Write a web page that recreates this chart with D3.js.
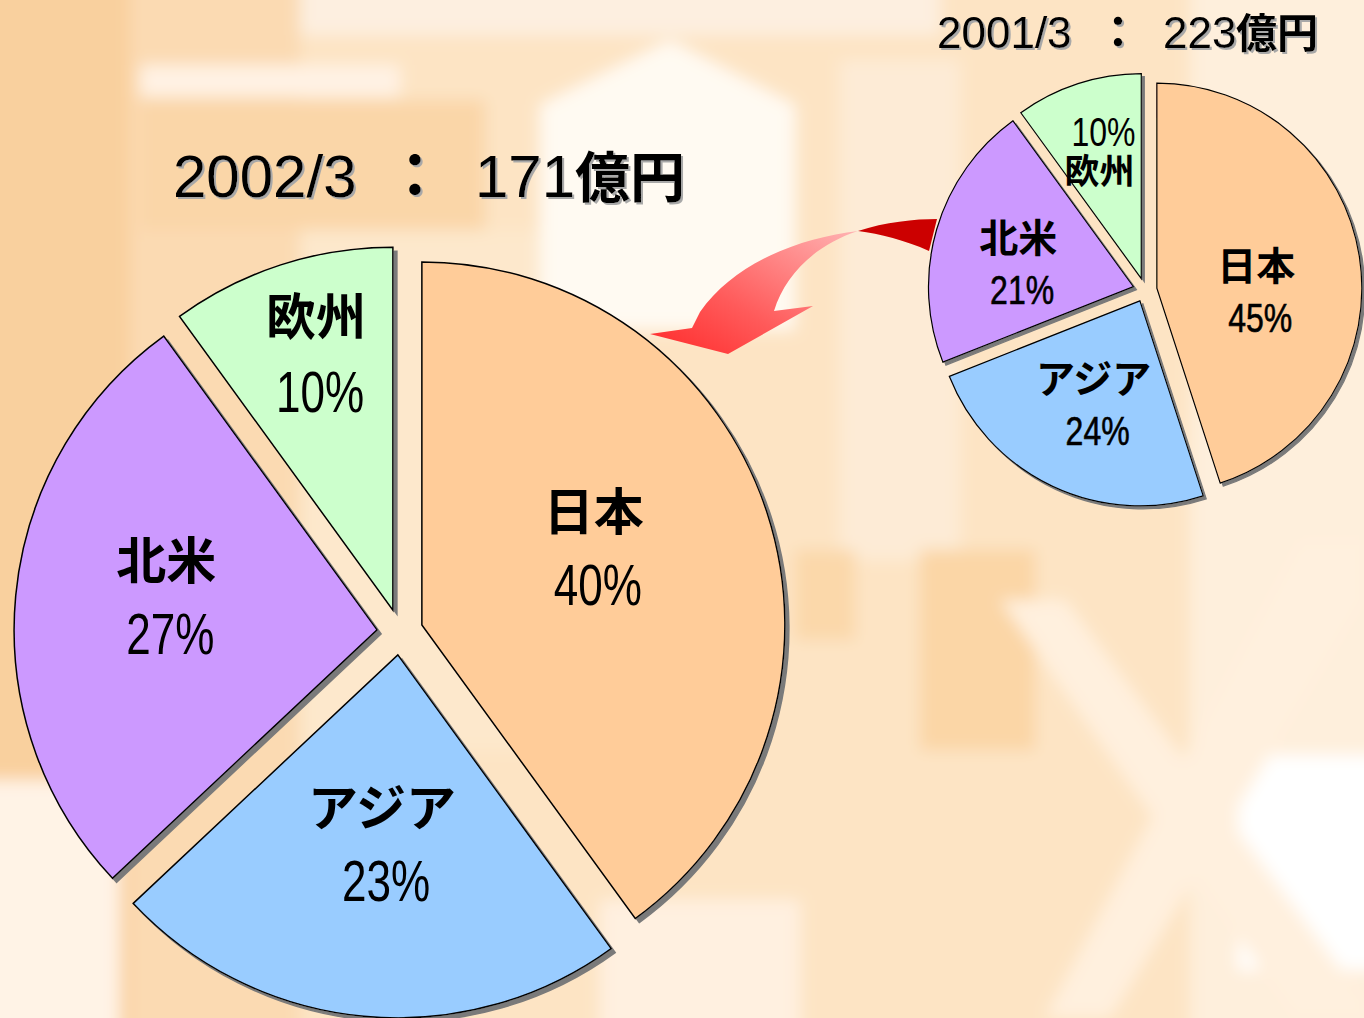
<!DOCTYPE html>
<html>
<head>
<meta charset="utf-8">
<script src="https://cdn.jsdelivr.net/npm/d3@7"></script>
<style>
  body { margin: 0; overflow: hidden; background: #fce3c2; }
</style>
</head>
<body>
<div id="chart"></div>
<script>
// data
const regions = ["日本", "アジア", "北米", "欧州"];
const share2002 = [40, 23, 27, 10];
const share2001 = [45, 24, 21, 10];
const regionColors = ["#FFCC99", "#99CCFF", "#CC99FF", "#CCFFCC"];
const title2002 = ["2002/3", "：", "171", "億円"];
const title2001 = ["2001/3", "：", "223", "億円"];

const w = 1364;
const h = 1018;

const svg = d3.select("#chart")
    .append("svg")
    .attr("width", w)
    .attr("height", h);

const defs = svg.append("defs");

defs.append("filter").attr("id", "bgblur")
    .attr("x", -0.1).attr("y", -0.1).attr("width", 1.2).attr("height", 1.2)
    .append("feGaussianBlur").attr("stdDeviation", 8);

const addShadow = (id, dx, color) => {
    defs.append("filter").attr("id", id)
        .attr("x", -0.1).attr("y", -0.1).attr("width", 1.3).attr("height", 1.3)
        .append("feDropShadow")
        .attr("dx", dx).attr("dy", dx)
        .attr("stdDeviation", 0)
        .attr("flood-color", color)
        .attr("flood-opacity", 1);
};
addShadow("shadowBig", 4, "#7a7a7a");
addShadow("shadowSmall", 3, "#7a7a7a");
addShadow("shadowText", 2, "#a8a8a8");

const grad = defs.append("linearGradient").attr("id", "arrowGrad")
    .attr("x1", "100%").attr("y1", "0%").attr("x2", "0%").attr("y2", "100%");
grad.append("stop").attr("offset", "0%").attr("stop-color", "#ffb3b3");
grad.append("stop").attr("offset", "60%").attr("stop-color", "#ff5a5a");
grad.append("stop").attr("offset", "100%").attr("stop-color", "#ff2a2a");

// washed-out background picture
const bg = svg.append("g").attr("filter", "url(#bgblur)");
bg.append("rect").attr("x", -20).attr("y", -20).attr("width", w + 40).attr("height", h + 40).attr("fill", "#fde4c4");
const bgRects = [
    [-20, -20, 150, 1060, "#f9d09e"],
    [130, -20, 170, 1060, "#fbdab2"],
    [300, -20, 640, 55, "#fdefe0"],
    [140, 65, 260, 32, "#fff2e4"],
    [140, 100, 345, 130, "#fad6a8"],
    [300, 230, 240, 520, "#fde8cc"],
    [840, 60, 120, 500, "#fdebd6"],
    [1190, -20, 200, 1060, "#feefdc"],
    [-20, 780, 140, 260, "#fff3e6"],
    [795, 550, 60, 90, "#fbd8aa"],
    [920, 550, 115, 200, "#fbd6a6"],
    [1238, 755, 150, 215, "#ffffff"],
    [600, 900, 200, 140, "#fff0e0"]
];
bgRects.forEach(r => {
    bg.append("rect").attr("x", r[0]).attr("y", r[1]).attr("width", r[2]).attr("height", r[3]).attr("fill", r[4]);
});
const bgPolys = [
    ["540,105 670,40 795,105 795,330 540,330", "#fffaf2"],
    ["1000,600 1065,600 1364,1000 1364,1018 1295,1018", "#fff0de"],
    ["1300,540 1364,540 1364,600 1110,1018 1045,1018", "#fff0de"]
];
bgPolys.forEach(p => {
    bg.append("polygon").attr("points", p[0]).attr("fill", p[1]);
});

// curved arrow from the 2001 pie to the 2002 pie
const arrow = svg.append("g");
arrow.append("path")
    .attr("d", "M937,219 C915,219 885,222 858,231 C880,234 905,240 929,251 Z")
    .attr("fill", "#cc0000");
arrow.append("path")
    .attr("d", "M858,231 C800,238 735,262 700,312 L692,328 L650,334 L728,354 L813,306 L774,311 C785,275 815,245 858,231 Z")
    .attr("fill", "url(#arrowGrad)");

const drawPie = (values, opt) => {
    const pie = d3.pie().sort(null).value(d => d.value);
    const arcs = pie(regions.map((name, i) => ({ name: name, value: values[i], color: regionColors[i], idx: i })));
    const arc = d3.arc().innerRadius(0).outerRadius(opt.r);

    const g = svg.append("g").attr("transform", `translate(${opt.cx}, ${opt.cy})`);

    const slice = g.selectAll("g")
        .data(arcs)
        .enter()
        .append("g")
        .attr("transform", d => {
            const a = (d.startAngle + d.endAngle) / 2;
            return `translate(${Math.sin(a) * opt.explode}, ${-Math.cos(a) * opt.explode})`;
        });

    slice.append("path")
        .attr("d", arc)
        .attr("fill", d => d.data.color)
        .attr("stroke", "#000")
        .attr("stroke-width", opt.sw)
        .attr("filter", `url(#${opt.shadow})`);

    slice.each(function (d) {
        const a = (d.startAngle + d.endAngle) / 2;
        const small = d.data.value <= 10;
        const lr = opt.r * (small ? opt.smallK : opt.labelK);
        const nudge = opt.nudge[d.data.idx];
        const x = Math.sin(a) * lr + nudge[0];
        const y = -Math.cos(a) * lr + nudge[1];
        const gap = small ? opt.smallGap : opt.gap;
        const pctFirst = small && opt.pctFirstSmall;
        const nameY = pctFirst ? y + gap / 2 : y - gap / 2;
        const pctY = pctFirst ? y - gap / 2 : y + gap / 2;
        const nameSize = small ? opt.smallNameSize : opt.nameSize;
        const sel = d3.select(this);

        sel.append("text")
            .attr("x", x)
            .attr("y", nameY)
            .attr("text-anchor", "middle")
            .attr("dominant-baseline", "central")
            .style("font-family", "'Noto Sans CJK JP', sans-serif")
            .style("font-weight", "bold")
            .style("font-size", nameSize + "px")
            .attr("fill", "#000")
            .text(d.data.name);

        sel.append("text")
            .attr("transform", `translate(${x + opt.pctDx}, ${pctY + opt.pctSize * 0.36}) scale(${opt.pctScale}, 1)`)
            .attr("text-anchor", "middle")
            .style("font-family", "'Liberation Sans', Arial, sans-serif")
            .style("font-size", opt.pctSize + "px")
            .attr("fill", "#000")
            .attr("stroke", "#000")
            .attr("stroke-width", small ? 0 : opt.pctStroke)
            .text(d.data.value + "%");
    });
};

drawPie(share2001, {
    cx: 1145, cy: 290, r: 205, explode: 12, sw: 1.2, shadow: "shadowSmall",
    labelK: 0.53, smallK: 0.66, gap: 55, smallGap: 37, pctFirstSmall: true,
    nameSize: 39, smallNameSize: 35, pctSize: 40, pctScale: 0.8, pctDx: 4, pctStroke: 0.6,
    nudge: [[-8, 19], [0, 4], [-11, 6], [0, 0]]
});

drawPie(share2002, {
    cx: 400, cy: 632, r: 363, explode: 23, sw: 1.5, shadow: "shadowBig",
    labelK: 0.55, smallK: 0.73, gap: 76, smallGap: 78, pctFirstSmall: false,
    nameSize: 50, smallNameSize: 50, pctSize: 58, pctScale: 0.76, pctDx: 4, pctStroke: 0,
    nudge: [[-18, -17], [3, -12], [-12, -16], [5, -6]]
});

// titles, one text per part
const drawTitle = (parts, opt) => {
    const g = svg.append("g").attr("filter", "url(#shadowText)");
    const addPart = (str, x, family, weight, size) => {
        g.append("text")
            .attr("x", x)
            .attr("y", opt.y)
            .attr("fill", "#000")
            .style("font-family", family)
            .style("font-weight", weight)
            .style("font-size", size + "px")
            .text(str);
    };
    const latin = "'Liberation Sans', Arial, sans-serif";
    const cjk = "'Noto Sans CJK JP', sans-serif";
    addPart(parts[0], opt.x0, latin, "normal", opt.size);
    addPart(parts[1], opt.x1, cjk, "bold", opt.size);
    addPart(parts[2], opt.x2, latin, "normal", opt.size);
    addPart(parts[3], opt.x3, cjk, "bold", opt.kanjiSize);
};

drawTitle(title2002, { x0: 173, x1: 385, x2: 475, x3: 575, y: 197, size: 60, kanjiSize: 55 });
drawTitle(title2001, { x0: 937, x1: 1096, x2: 1163, x3: 1236, y: 48, size: 44, kanjiSize: 41 });
</script>
</body>
</html>
